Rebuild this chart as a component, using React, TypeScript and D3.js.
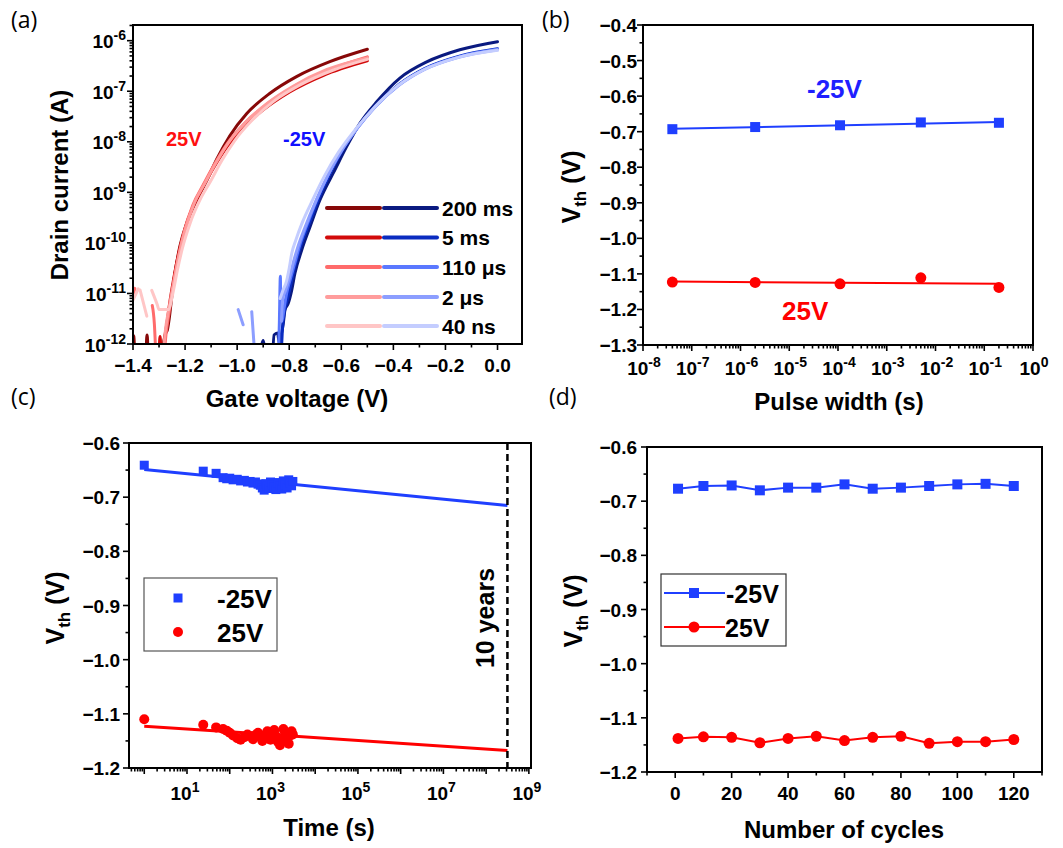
import * as d3 from "d3";

type Pt = [number, number] | null;

const FONT = "'Liberation Sans', Arial, sans-serif";
const BLUE = "#1f3fff";
const RED = "#ff0000";

// ---------- (a) transfer curves: [gate voltage (V), log10 drain current (A)], null = gap ----------
const pulseLabels = ["200 ms", "5 ms", "110 μs", "2 μs", "40 ns"];
const redColors = ["#870808", "#d20a0a", "#ff6b6b", "#ff9c9c", "#ffc6c6"];
const blueColors = ["#0a1a80", "#0a2cc0", "#5a78ff", "#8c9eff", "#c4cdff"];

const red200ms: Pt[] = [
  [-1.402, -11.82], [-1.397, -11.85], [-1.392, -12.4], null,
  [-1.351, -12.4], [-1.346, -11.82], [-1.341, -12.4], null,
  [-1.29, -12.3], [-1.282, -11.95], [-1.275, -11.8], [-1.268, -11.72], [-1.261, -11.5],
  [-1.251, -11.06], [-1.239, -10.6], [-1.22, -10.07], [-1.194, -9.61], [-1.155, -9.15],
  [-1.115, -8.75], [-1.079, -8.35], [-1.028, -7.88], [-0.963, -7.44], [-0.874, -7.04],
  [-0.772, -6.71], [-0.644, -6.415], [-0.5, -6.17],
];
const red5ms: Pt[] = [
  [-1.301, -12.4], [-1.296, -11.85], [-1.292, -12.4], null,
  [-1.288, -12.4], [-1.279, -11.9], [-1.27, -11.6], [-1.258, -11.15], [-1.24, -10.6],
  [-1.215, -10.0], [-1.18, -9.42], [-1.14, -8.98], [-1.1, -8.6], [-1.05, -8.18],
  [-0.98, -7.74], [-0.9, -7.37], [-0.8, -7.02], [-0.67, -6.69], [-0.5, -6.4],
];
const red110us: Pt[] = [
  [-1.402, -11.1], [-1.393, -10.9], null,
  [-1.326, -11.24], [-1.318, -11.6], [-1.311, -12.4], null,
  [-1.283, -12.4], [-1.273, -11.8], [-1.262, -11.4], [-1.25, -11.0], [-1.232, -10.45],
  [-1.205, -9.8], [-1.17, -9.25], [-1.13, -8.85], [-1.09, -8.47], [-1.04, -8.05],
  [-0.97, -7.63], [-0.89, -7.27], [-0.79, -6.93], [-0.66, -6.6], [-0.5, -6.32],
];
const red2us: Pt[] = [
  [-1.287, -12.4], [-1.276, -11.75], [-1.262, -11.3], [-1.248, -10.9], [-1.228, -10.35],
  [-1.2, -9.75], [-1.165, -9.22], [-1.125, -8.83], [-1.085, -8.45], [-1.035, -8.03],
  [-0.965, -7.6], [-0.885, -7.24], [-0.785, -6.9], [-0.655, -6.57], [-0.5, -6.34],
];
const red40ns: Pt[] = [
  [-1.399, -11.12], [-1.38, -10.91], null,
  [-1.373, -10.93], [-1.347, -11.45], null,
  [-1.328, -10.94], [-1.307, -11.22], [-1.3, -11.32], [-1.265, -11.32], [-1.245, -10.95],
  [-1.23, -10.55], [-1.21, -10.1], [-1.18, -9.6], [-1.14, -9.12], [-1.1, -8.76],
  [-1.06, -8.38], [-1.01, -7.98], [-0.94, -7.56], [-0.86, -7.2], [-0.76, -6.88],
  [-0.63, -6.58], [-0.5, -6.37],
];

const blue200ms: Pt[] = [
  [-0.915, -12.4], [-0.9, -11.93], [-0.89, -12.4], null,
  [-0.865, -12.4], [-0.858, -11.82], [-0.845, -11.78], [-0.838, -11.98], [-0.83, -11.8],
  [-0.823, -11.6], [-0.816, -11.32], [-0.804, -11.2], [-0.791, -10.95], [-0.778, -10.6],
  [-0.752, -10.14], [-0.72, -9.68], [-0.682, -9.15], [-0.663, -8.94], [-0.631, -8.62],
  [-0.58, -8.1], [-0.528, -7.63], [-0.464, -7.21], [-0.375, -6.74], [-0.272, -6.42],
  [-0.145, -6.18], [0, -6.02],
];
const blue5ms: Pt[] = [
  [-0.832, -12.4], [-0.826, -11.7], [-0.818, -11.35], [-0.806, -11.1], [-0.795, -10.85],
  [-0.78, -10.5], [-0.755, -10.05], [-0.722, -9.6], [-0.685, -9.1], [-0.64, -8.6],
  [-0.59, -8.12], [-0.535, -7.7], [-0.47, -7.3], [-0.38, -6.87], [-0.28, -6.55],
  [-0.15, -6.31], [0, -6.16],
];
const blue110us: Pt[] = [
  [-0.842, -12.4], [-0.838, -11.6], [-0.834, -10.66], [-0.832, -11.5], [-0.828, -11.55],
  [-0.82, -11.3], [-0.81, -11.0], [-0.795, -10.7], [-0.78, -10.42], [-0.757, -10.0],
  [-0.725, -9.55], [-0.688, -9.07], [-0.645, -8.6], [-0.592, -8.12], [-0.535, -7.7],
  [-0.47, -7.3], [-0.38, -6.88], [-0.28, -6.56], [-0.15, -6.32], [0, -6.17],
];
const blue2us: Pt[] = [
  [-0.996, -11.32], [-0.977, -11.62], null,
  [-0.944, -11.36], [-0.93, -12.4], null,
  [-0.83, -11.55], [-0.825, -11.1], [-0.815, -10.95], [-0.8, -10.7], [-0.785, -10.4],
  [-0.765, -10.05], [-0.74, -9.7], [-0.7, -9.2], [-0.655, -8.7], [-0.6, -8.18],
  [-0.54, -7.74], [-0.47, -7.31], [-0.38, -6.89], [-0.28, -6.57], [-0.15, -6.33], [0, -6.18],
];
const blue40ns: Pt[] = [
  [-0.835, -11.1], [-0.825, -10.95], [-0.81, -10.75], [-0.8, -10.5], [-0.79, -10.2],
  [-0.775, -9.95], [-0.75, -9.6], [-0.71, -9.15], [-0.665, -8.68], [-0.61, -8.2],
  [-0.545, -7.75], [-0.475, -7.33], [-0.385, -6.9], [-0.285, -6.58], [-0.15, -6.33], [0, -6.19],
];

const redCurves = [red200ms, red5ms, red110us, red2us, red40ns];
const blueCurves = [blue200ms, blue5ms, blue110us, blue2us, blue40ns];
const gateTicks = [-1.4, -1.2, -1.0, -0.8, -0.6, -0.4, -0.2, 0.0];
const currentExps = [-12, -11, -10, -9, -8, -7, -6];

// ---------- (b) Vth vs pulse width ----------
const pulseWidths = [4e-8, 2e-6, 1.1e-4, 5e-3, 0.2];
const vthPulseNeg = [-0.693, -0.687, -0.682, -0.674, -0.675];
const vthPulsePos = [-1.123, -1.124, -1.128, -1.111, -1.138];
const pulseExps = [-8, -7, -6, -5, -4, -3, -2, -1, 0];
const vthTicksB = [-1.3, -1.2, -1.1, -1.0, -0.9, -0.8, -0.7, -0.6, -0.5, -0.4];

// ---------- (c) retention ----------
const retTimes = [
  1, 24, 48, 70, 85, 100, 120, 150, 180, 220, 260, 300, 350, 400, 460, 520, 580, 640,
  700, 760, 820, 900, 1000, 1100, 1200, 1350, 1500, 1650, 1800, 2000, 2200, 2400, 2600, 2800, 3000,
];
const retNeg = [
  -0.641, -0.652, -0.656, -0.664, -0.666, -0.665, -0.668, -0.667, -0.67, -0.669, -0.672,
  -0.671, -0.674, -0.672, -0.676, -0.678, -0.683, -0.687, -0.675, -0.679, -0.684, -0.672,
  -0.678, -0.682, -0.686, -0.673, -0.68, -0.685, -0.67, -0.677, -0.683, -0.668, -0.674,
  -0.679, -0.671,
];
const retPos = [
  -1.11, -1.12, -1.125, -1.128, -1.131, -1.135, -1.14, -1.145, -1.148, -1.143, -1.138,
  -1.141, -1.147, -1.139, -1.135, -1.143, -1.15, -1.145, -1.138, -1.132, -1.142, -1.148,
  -1.136, -1.13, -1.141, -1.152, -1.158, -1.145, -1.128, -1.136, -1.147, -1.155, -1.14,
  -1.132, -1.138,
];
const fitTimes = [1, 3.15e8];
const fitNeg = [-0.649, -0.7153];
const fitPos = [-1.1227, -1.1675];
const tenYears = 3.15e8;
const timeLabelExps = [1, 3, 5, 7, 9];
const vthTicksCD = [-1.2, -1.1, -1.0, -0.9, -0.8, -0.7, -0.6];

// ---------- (d) endurance ----------
const cycles = [1, 10, 20, 30, 40, 50, 60, 70, 80, 90, 100, 110, 120];
const cycNeg = [-0.677, -0.672, -0.671, -0.68, -0.675, -0.675, -0.669, -0.677, -0.675, -0.672, -0.669, -0.668, -0.672];
const cycPos = [-1.138, -1.135, -1.136, -1.146, -1.138, -1.134, -1.142, -1.136, -1.134, -1.147, -1.144, -1.144, -1.14];
const cycleTicks = [0, 20, 40, 60, 80, 100, 120];

// ---------- helpers ----------
// Origin writes negative tick values with a real minus sign
const fmt1 = (v: number) => (v === 0 ? "0.0" : v.toFixed(1).replace("-", "\u2212"));

function logMinors(e0: number, e1: number, lo: number, hi: number) {
  const out: number[] = [];
  for (let k = e0; k <= e1; k++) for (let m = 2; m <= 9; m++) {
    const v = m * Math.pow(10, k);
    if (v >= lo && v <= hi) out.push(v);
  }
  return out;
}

function stepRange(a: number, b: number, step: number) {
  const out: number[] = [];
  const n = Math.round((b - a) / step);
  for (let i = 0; i <= n; i++) out.push(+(a + i * step).toFixed(4));
  return out;
}

function Frame({ l, r, t, b }: any) {
  return <rect x={l} y={t} width={r - l} height={b - t} fill="none" stroke="#000" strokeWidth={2} />;
}

function XTicks({ scale, major, minor, y }: any) {
  return (
    <g stroke="#000" strokeWidth={1.6}>
      {major.map((v: number, i: number) => (
        <line key={"M" + i} x1={scale(v)} x2={scale(v)} y1={y} y2={y + 6} />
      ))}
      {minor.map((v: number, i: number) => (
        <line key={"m" + i} x1={scale(v)} x2={scale(v)} y1={y} y2={y + 3.5} />
      ))}
    </g>
  );
}

function YTicks({ scale, major, minor, x }: any) {
  return (
    <g stroke="#000" strokeWidth={1.6}>
      {major.map((v: number, i: number) => (
        <line key={"M" + i} y1={scale(v)} y2={scale(v)} x1={x} x2={x - 6} />
      ))}
      {minor.map((v: number, i: number) => (
        <line key={"m" + i} y1={scale(v)} y2={scale(v)} x1={x} x2={x - 3.5} />
      ))}
    </g>
  );
}

function Pow10({ x, y, exp, anchor }: any) {
  return (
    <text x={x} y={y} textAnchor={anchor} fontSize={19} fontWeight="bold">
      10<tspan dy={-8} fontSize={14}>{exp}</tspan>
    </text>
  );
}

function VthTitle({ x, y }: any) {
  return (
    <text transform={`translate(${x},${y}) rotate(-90)`} textAnchor="middle" fontSize={25} fontWeight="bold">
      V<tspan fontSize={17} dy={6}>th</tspan>
      <tspan dy={-6}>{" (V)"}</tspan>
    </text>
  );
}

function Square({ x, y, s, fill }: any) {
  return <rect x={x - s / 2} y={y - s / 2} width={s} height={s} fill={fill} />;
}

function fitLog(xs: number[], ys: number[]) {
  const lx = xs.map(Math.log10);
  const mx = d3.mean(lx) as number;
  const my = d3.mean(ys) as number;
  const slope =
    d3.sum(lx.map((v, i) => (v - mx) * (ys[i] - my))) / d3.sum(lx.map((v) => (v - mx) ** 2));
  return (x: number) => my + slope * (Math.log10(x) - mx);
}

export default function App() {
  // panel boxes
  const A = { l: 133, r: 522, t: 25, b: 344 };
  const B = { l: 643, r: 1033, t: 25, b: 345 };
  const C = { l: 129, r: 531, t: 443, b: 768 };
  const D = { l: 647, r: 1042, t: 447, b: 772 };

  // (a)
  const xA = d3.scaleLinear().domain([-1.4, 0.094]).range([A.l, A.r]);
  const yA = d3.scaleLog().domain([1e-12, Math.pow(10, -5.69)]).range([A.b, A.t]);
  const lineA = d3
    .line<Pt>()
    .defined((d) => d !== null)
    .x((d) => xA((d as [number, number])[0]))
    .y((d) => yA(Math.pow(10, (d as [number, number])[1])))
    .curve(d3.curveMonotoneX);
  const gateMinor = stepRange(-1.4, 0, 0.1).filter((v) => !gateTicks.some((t) => Math.abs(t - v) < 1e-6));
  const curMinor = logMinors(-12, -6, 1e-12, Math.pow(10, -5.69));
  const legendRows = [208, 237.5, 267, 297, 326];

  // (b)
  const xB = d3.scaleLog().domain([1e-8, 1]).range([B.l, B.r]);
  const yB = d3.scaleLinear().domain([-1.3, -0.4]).range([B.b, B.t]);
  const fitB1 = fitLog(pulseWidths, vthPulseNeg);
  const fitB2 = fitLog(pulseWidths, vthPulsePos);
  const pw0 = pulseWidths[0];
  const pw1 = pulseWidths[pulseWidths.length - 1];
  const minorB = stepRange(-1.25, -0.45, 0.1);

  // (c)
  const xC = d3.scaleLog().domain([Math.pow(10, -0.357), Math.pow(10, 9.05)]).range([C.l, C.r]);
  const yC = d3.scaleLinear().domain([-1.2, -0.6]).range([C.b, C.t]);
  const majC = d3.range(0, 10).map((k) => Math.pow(10, k));
  const minC = logMinors(-1, 9, Math.pow(10, -0.357), Math.pow(10, 9.05));
  const minorCD = stepRange(-1.15, -0.65, 0.1);

  // (d)
  const xD = d3.scaleLinear().domain([-10, 130]).range([D.l, D.r]);
  const yD = d3.scaleLinear().domain([-1.2, -0.6]).range([D.b, D.t]);
  const lineD = d3
    .line<number>()
    .x((_, i) => xD(cycles[i]))
    .y((v) => yD(v));

  return (
    <svg
      width={1063}
      height={848}
      style={{ position: "absolute", left: 0, top: 0, background: "#fff" }}
      fontFamily={FONT}
    >
      <defs>
        <clipPath id="clipA">
          <rect x={A.l} y={A.t} width={A.r - A.l} height={A.b - A.t} />
        </clipPath>
      </defs>

      {/* panel letters */}
      <g fontFamily="'Open Sans', 'Noto Sans', sans-serif" fontSize={23}>
        <text x={11} y={28}>(a)</text>
        <text x={542} y={28}>(b)</text>
        <text x={11} y={405}>(c)</text>
        <text x={549} y={405}>(d)</text>
      </g>

      {/* ===== (a) ===== */}
      <g clipPath="url(#clipA)" fill="none" strokeWidth={3} strokeLinejoin="round" strokeLinecap="round">
        {redCurves.map((c, i) => (
          <path key={"r" + i} d={lineA(c) || ""} stroke={redColors[i]} />
        ))}
        {blueCurves.map((c, i) => (
          <path key={"b" + i} d={lineA(c) || ""} stroke={blueColors[i]} />
        ))}
      </g>
      {pulseLabels.map((lab, i) => (
        <g key={lab}>
          <line x1={327} x2={380} y1={legendRows[i]} y2={legendRows[i]} stroke={redColors[i]} strokeWidth={4} strokeLinecap="round" />
          <line x1={384} x2={437} y1={legendRows[i]} y2={legendRows[i]} stroke={blueColors[i]} strokeWidth={4} strokeLinecap="round" />
          <text x={442} y={legendRows[i] + 7.5} fontSize={21} fontWeight="bold">{lab}</text>
        </g>
      ))}
      <text x={166} y={145.5} fontSize={20} fontWeight="bold" fill="#ff1010">25V</text>
      <text x={283} y={145.5} fontSize={20} fontWeight="bold" fill="#1010ff">-25V</text>
      <Frame {...A} />
      <XTicks scale={xA} major={gateTicks} minor={gateMinor} y={A.b} />
      <YTicks scale={(e: number) => yA(e)} major={currentExps.map((e) => Math.pow(10, e))} minor={curMinor} x={A.l} />
      {gateTicks.map((v) => (
        <text key={v} x={xA(v)} y={372} textAnchor="middle" fontSize={19} fontWeight="bold">{fmt1(v)}</text>
      ))}
      {currentExps.map((e) => (
        <Pow10 key={e} x={126} y={yA(Math.pow(10, e)) + 7.5} exp={String(e)} anchor="end" />
      ))}
      <text x={297} y={407} textAnchor="middle" fontSize={24} fontWeight="bold">Gate voltage (V)</text>
      <text transform={`translate(68,185) rotate(-90)`} textAnchor="middle" fontSize={24} fontWeight="bold">
        Drain current (A)
      </text>

      {/* ===== (b) ===== */}
      <line x1={xB(pw0)} x2={xB(pw1)} y1={yB(fitB1(pw0))} y2={yB(fitB1(pw1))} stroke={BLUE} strokeWidth={2} />
      <line x1={xB(pw0)} x2={xB(pw1)} y1={yB(fitB2(pw0))} y2={yB(fitB2(pw1))} stroke={RED} strokeWidth={2} />
      {pulseWidths.map((p, i) => (
        <g key={p}>
          <Square x={xB(p)} y={yB(vthPulseNeg[i])} s={10} fill={BLUE} />
          <circle cx={xB(p)} cy={yB(vthPulsePos[i])} r={5.5} fill={RED} />
        </g>
      ))}
      <text x={807} y={98} fontSize={26} fontWeight="bold" fill="#1f1fff">-25V</text>
      <text x={782} y={320} fontSize={26} fontWeight="bold" fill={RED}>25V</text>
      <Frame {...B} />
      <XTicks scale={xB} major={pulseExps.map((e) => Math.pow(10, e))} minor={logMinors(-8, -1, 1e-8, 1)} y={B.b} />
      <YTicks scale={yB} major={vthTicksB} minor={minorB} x={B.l} />
      {pulseExps.map((e) => (
        <Pow10 key={e} x={xB(Math.pow(10, e)) + 1} y={375} exp={String(e)} anchor="middle" />
      ))}
      {vthTicksB.map((v) => (
        <text key={v} x={637} y={yB(v) + 7} textAnchor="end" fontSize={19} fontWeight="bold">{fmt1(v)}</text>
      ))}
      <text x={839} y={410} textAnchor="middle" fontSize={24} fontWeight="bold">Pulse width (s)</text>
      <VthTitle x={580} y={187} />

      {/* ===== (c) ===== */}
      <line x1={xC(fitTimes[0])} x2={xC(fitTimes[1])} y1={yC(fitNeg[0])} y2={yC(fitNeg[1])} stroke={BLUE} strokeWidth={3} />
      <line x1={xC(fitTimes[0])} x2={xC(fitTimes[1])} y1={yC(fitPos[0])} y2={yC(fitPos[1])} stroke={RED} strokeWidth={3} />
      {retTimes.map((t, i) => (
        <Square key={"s" + i} x={xC(t)} y={yC(retNeg[i])} s={9} fill={BLUE} />
      ))}
      {retTimes.map((t, i) => (
        <circle key={"c" + i} cx={xC(t)} cy={yC(retPos[i])} r={5} fill={RED} />
      ))}
      <line x1={xC(tenYears)} x2={xC(tenYears)} y1={C.t} y2={C.b} stroke="#000" strokeWidth={2.5} strokeDasharray="7,4" />
      <text transform={`translate(494,618) rotate(-90)`} textAnchor="middle" fontSize={25} fontWeight="bold">10 years</text>
      <rect x={144} y={578} width={133} height={73} fill="#fff" stroke="#555" strokeWidth={1.2} />
      <Square x={178} y={598} s={9} fill={BLUE} />
      <circle cx={178} cy={632} r={5} fill={RED} />
      <text x={217} y={608} fontSize={26} fontWeight="bold">-25V</text>
      <text x={217} y={642} fontSize={26} fontWeight="bold">25V</text>
      <Frame {...C} />
      <XTicks scale={xC} major={majC} minor={minC} y={C.b} />
      <YTicks scale={yC} major={vthTicksCD} minor={minorCD} x={C.l} />
      {timeLabelExps.map((e) => (
        <Pow10 key={e} x={xC(Math.pow(10, e)) - 2} y={800} exp={String(e)} anchor="middle" />
      ))}
      {vthTicksCD.map((v) => (
        <text key={v} x={120} y={yC(v) + 7} textAnchor="end" fontSize={19} fontWeight="bold">{fmt1(v)}</text>
      ))}
      <text x={329} y={836} textAnchor="middle" fontSize={24} fontWeight="bold">Time (s)</text>
      <VthTitle x={64} y={608} />

      {/* ===== (d) ===== */}
      <path d={lineD(cycNeg) || ""} fill="none" stroke={BLUE} strokeWidth={2} />
      <path d={lineD(cycPos) || ""} fill="none" stroke={RED} strokeWidth={2} />
      {cycles.map((c, i) => (
        <g key={c}>
          <Square x={xD(c)} y={yD(cycNeg[i])} s={10} fill={BLUE} />
          <circle cx={xD(c)} cy={yD(cycPos[i])} r={5.5} fill={RED} />
        </g>
      ))}
      <rect x={661} y={574} width={125} height={72} fill="#fff" stroke="#333" strokeWidth={1.2} />
      <line x1={664} x2={725} y1={593} y2={593} stroke={BLUE} strokeWidth={2} />
      <Square x={694} y={593} s={10} fill={BLUE} />
      <line x1={664} x2={725} y1={627} y2={627} stroke={RED} strokeWidth={2} />
      <circle cx={694} cy={627} r={5.5} fill={RED} />
      <text x={726} y={603} fontSize={25} fontWeight="bold">-25V</text>
      <text x={725} y={637} fontSize={25} fontWeight="bold">25V</text>
      <Frame {...D} />
      <XTicks scale={xD} major={cycleTicks} minor={stepRange(-10, 130, 10).filter((v) => v % 20 !== 0)} y={D.b} />
      <YTicks scale={yD} major={vthTicksCD} minor={minorCD} x={D.l} />
      {cycleTicks.map((v) => (
        <text key={v} x={xD(v)} y={800} textAnchor="middle" fontSize={19} fontWeight="bold">{v}</text>
      ))}
      {vthTicksCD.map((v) => (
        <text key={v} x={637} y={yD(v) + 7} textAnchor="end" fontSize={19} fontWeight="bold">{fmt1(v)}</text>
      ))}
      <text x={844} y={838} textAnchor="middle" fontSize={24} fontWeight="bold">Number of cycles</text>
      <VthTitle x={582} y={611} />
    </svg>
  );
}
